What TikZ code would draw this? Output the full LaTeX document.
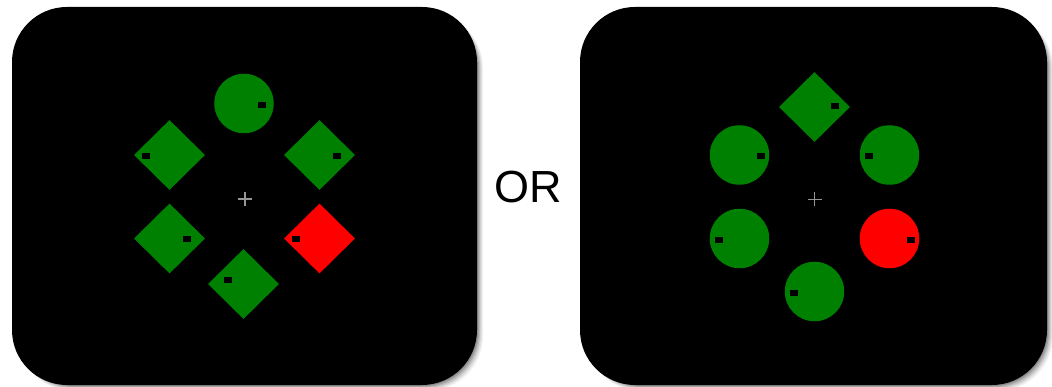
\documentclass[tikz,border=0pt]{standalone}
\usepackage{fontspec}
\setmainfont{Liberation Sans}
\usetikzlibrary{shapes.geometric}
\definecolor{stimgreen}{RGB}{0,128,0}
\definecolor{stimred}{RGB}{255,0,0}
\definecolor{crossgray}{RGB}{150,150,150}
\begin{document}
\begin{tikzpicture}[x=1pt,y=-1pt,
  panel/.style={fill=black,rounded corners=55pt},
  disc/.style={circle,fill=#1,draw=none,minimum size=59.5pt,inner sep=0pt},
  dia/.style={diamond,fill=#1,draw=none,minimum width=71pt,minimum height=70pt,inner sep=0pt},
  gap/.style={rectangle,fill=black,draw=none,minimum width=8pt,minimum height=6pt,inner sep=0pt},
  fixline/.style={draw=crossgray,line width=1.8pt},
  ortext/.style={font=\fontsize{45}{54}\selectfont,inner sep=0pt}]
\useasboundingbox (0,0) rectangle (1052,387);
% shadows (right and bottom only)
\foreach \s/\o in {6/0.05,5/0.06,4/0.08,3/0.1,2/0.12,1/0.15}{
  \fill[black,opacity=\o,rounded corners=55pt] (12+6,7+6) rectangle (477+\s,385+\s);
  \fill[black,opacity=\o,rounded corners=55pt] (580+6,7+6) rectangle (1047+\s,385+\s);
}
\fill[panel] (12,7) rectangle (477,385);
\fill[panel] (580,7) rectangle (1047,385);
% left panel
\node[disc=stimgreen] (lt) at (244,103.5) {};
\node[dia=stimgreen] (lul) at (169.5,155) {};
\node[dia=stimgreen] (lur) at (319.5,155) {};
\node[dia=stimgreen] (lll) at (169.5,238.5) {};
\node[dia=stimred] (llr) at (319.5,238.5) {};
\node[dia=stimgreen] (lb) at (243.5,284) {};
\node[gap] (glt) at (261.5,105.5) {};
\node[gap] (glul) at (145.5,156) {};
\node[gap] (glur) at (337,156) {};
\node[gap] (glll) at (187,239) {};
\node[gap] (gllr) at (296,239) {};
\node[gap] (glb) at (228,280.5) {};
\coordinate (lfix) at (245,199);
\draw[fixline] ([xshift=-7pt]lfix) -- ([xshift=7pt]lfix);
\draw[fixline] ([yshift=-7pt]lfix) -- ([yshift=7pt]lfix);
% right panel
\node[dia=stimgreen] (rt) at (814.5,107) {};
\node[disc=stimgreen] (rul) at (739.5,155) {};
\node[disc=stimgreen] (rur) at (889.5,155) {};
\node[disc=stimgreen] (rll) at (739.5,238.5) {};
\node[disc=stimred] (rlr) at (889.5,238.5) {};
\node[disc=stimgreen] (rb) at (814.5,291.5) {};
\node[gap] (grt) at (835,106.5) {};
\node[gap] (grul) at (761,156.5) {};
\node[gap] (grur) at (869,156.5) {};
\node[gap] (grll) at (718.5,240) {};
\node[gap] (grlr) at (910.5,240) {};
\node[gap] (grb) at (793.5,293) {};
\coordinate (rfix) at (814.5,199.5);
\draw[fixline] ([xshift=-7pt]rfix) -- ([xshift=7pt]rfix);
\draw[fixline] ([yshift=-7pt]rfix) -- ([yshift=7pt]rfix);
% OR
\node[ortext] (or) at (528.5,187) {OR};
\end{tikzpicture}
\end{document}
